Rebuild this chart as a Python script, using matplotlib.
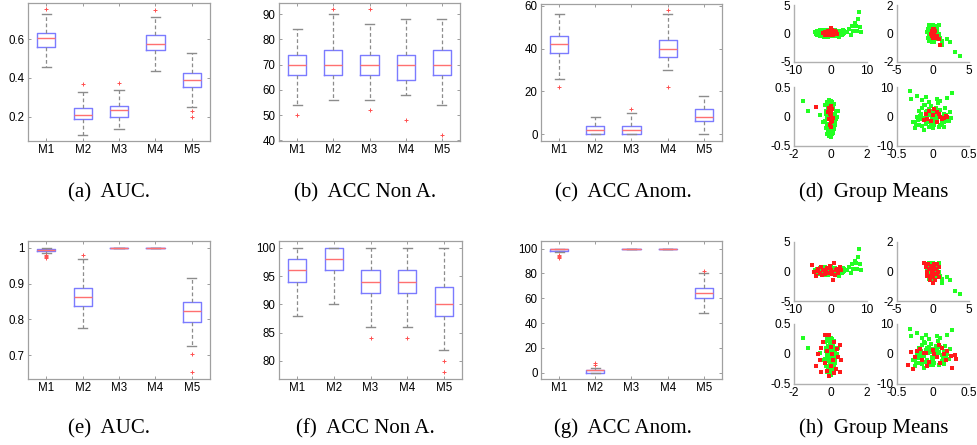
import matplotlib.pyplot as plt

plt.rcParams['axes.unicode_minus'] = False
plt.rcParams['font.family'] = 'Liberation Sans'

W, H = 977, 445

methods = ['M1', 'M2', 'M3', 'M4', 'M5']

# (a) AUC, first setting
a_med = [0.605, 0.210, 0.233, 0.574, 0.387]
a_q1 = [0.558, 0.186, 0.200, 0.543, 0.351]
a_q3 = [0.631, 0.245, 0.255, 0.621, 0.423]
a_lo = [0.455, 0.106, 0.138, 0.434, 0.250]
a_hi = [0.728, 0.325, 0.340, 0.714, 0.527]
a_out = [[0.756], [0.366], [0.375], [0.752], [0.228, 0.199]]

# (b) ACC Non A.
b_med = [70, 70, 70, 70, 70]
b_q1 = [66, 66, 66, 64, 66]
b_q3 = [74, 76, 74, 74, 76]
b_lo = [54, 56, 56, 58, 54]
b_hi = [84, 90, 86, 88, 88]
b_out = [[50], [92], [92, 52], [48], [42]]

# (c) ACC Anom.
c_med = [42, 2, 2, 40, 8]
c_q1 = [38, 0, 0, 36, 6]
c_q3 = [46, 4, 4, 44, 12]
c_lo = [26, 0, 0, 30, 0]
c_hi = [56, 8, 10, 56, 18]
c_out = [[22], [], [12], [58, 22], []]

# (e) AUC, second setting
e_med = [0.995, 0.864, 1.0, 1.0, 0.823]
e_q1 = [0.992, 0.837, 1.0, 1.0, 0.792]
e_q3 = [0.998, 0.889, 1.0, 1.0, 0.850]
e_lo = [0.987, 0.775, 1.0, 1.0, 0.725]
e_hi = [1.0, 0.968, 1.0, 1.0, 0.915]
e_out = [[0.981, 0.978, 0.975, 0.973], [0.981], [], [], [0.703, 0.653]]

# (f) ACC Non A.
f_med = [96, 98, 94, 94, 90]
f_q1 = [94, 96, 92, 92, 88]
f_q3 = [98, 100, 96, 96, 93]
f_lo = [88, 90, 86, 86, 82]
f_hi = [100, 100, 100, 100, 100]
f_out = [[], [], [84], [84], [80, 78]]

# (g) ACC Anom.
g_med = [100, 2, 100, 100, 64]
g_q1 = [98, 0, 100, 100, 60]
g_q3 = [100, 2, 100, 100, 68]
g_lo = [97, 0, 100, 100, 48]
g_hi = [100, 4, 100, 100, 80]
g_out = [[95, 94, 93, 92], [6, 8], [], [], [82]]

# group means, green points (same in d and h)
gx_tl = [-4.2, -3.8, -3.5, -3.2, -3.0, -2.8, -2.5, -2.2, -2.0, -1.8,
         -1.5, -1.2, -1.0, -0.8, -0.5, -0.2, 0.0, 0.3, 0.5, 0.8,
         1.0, 1.3, 1.5, 1.8, 2.0, 2.3, 2.6, 3.0, 3.3, 3.7,
         -3.6, -3.1, -2.6, -2.1, -1.6, -1.1, -0.6, -0.1, 0.4, 0.9, 1.4, 1.9, 2.4, 2.9, 3.4,
         -3.3, -2.7, -2.3, -1.7, -1.3, -0.7, -0.3, 0.2, 0.7, 1.2, 1.7, 2.2, 2.7, 3.2, 4.0,
         -3.9, -3.4, -2.9, -2.4, -1.9, -1.4, -0.9, -0.4, 0.1, 0.6, 1.1, 1.6, 2.1, 2.6, 3.1, 3.6,
         2.2, 3.5, 4.5, 5.0, 5.5, 6.0, 6.3, 6.8, 7.0, 7.2, 7.6, 7.8, 8.0, 8.3]
gy_tl = [0.2, 0.5, -0.1, 0.3, 0.6, -0.3, 0.1, 0.4, -0.5, 0.2,
         0.7, -0.2, 0.3, -0.6, 0.1, 0.5, -0.4, 0.2, -0.1, 0.6,
         -0.3, 0.1, 0.4, -0.2, 0.3, -0.1, 0.2, 0.0, 0.3, 0.1,
         -0.2, 0.0, 0.6, -0.1, 0.3, 0.5, -0.3, 0.2, 0.4, -0.5, 0.2, 0.5, -0.3, 0.4, -0.1,
         0.4, -0.4, 0.0, -0.6, 0.1, 0.6, -0.1, 0.7, -0.2, 0.5, 0.0, -0.4, 0.3, 0.5, 0.2,
         -0.1, 0.2, -0.4, 0.3, 0.5, -0.1, 0.0, -0.5, 0.1, 0.3, 0.6, -0.4, 0.1, 0.5, -0.3, 0.5,
         -0.7, 0.6, 0.2, 0.8, -0.2, 1.3, 0.4, 1.8, 1.4, 0.4, 2.5, 3.8, 1.2, 0.3]
gx_tr = [-0.8, -0.6, -0.4, -0.2, 0.0, 0.2, 0.4, 0.6, 0.8,
         -0.7, -0.5, -0.3, -0.1, 0.1, 0.3, 0.5, 0.7,
         -0.6, -0.4, -0.2, 0.0, 0.2, 0.4, 0.6,
         -0.5, -0.3, -0.1, 0.1, 0.3, 0.5,
         -0.7, -0.4, -0.2, 0.2, 0.5, 0.9,
         -0.3, 0.0, 0.3, -0.6, 0.6, -0.2, 0.2, 0.0, -0.4, 0.4, -0.1, 0.1,
         1.0, 1.3, 1.2, 2.0, 2.3, 3.0, 3.7, 0.8]
gy_tr = [0.1, 0.4, -0.2, 0.5, 0.6, 0.3, 0.5, 0.2, 0.0,
         -0.3, 0.1, 0.3, -0.4, 0.2, -0.1, 0.4, -0.2,
         -0.5, 0.0, -0.6, -0.3, -0.5, 0.1, -0.3,
         0.6, 0.2, 0.0, 0.4, 0.5, -0.4,
         0.3, -0.3, 0.2, -0.2, 0.1, -0.1,
         -0.1, 0.2, 0.0, 0.0, 0.4, 0.4, -0.4, -0.5, 0.5, -0.1, 0.6, -0.6,
         -0.3, -0.5, -0.8, -0.4, -0.6, -1.3, -1.55, 0.6]
gx_bl = [-0.3, -0.2, -0.1, 0.0, 0.1, 0.2, 0.3,
         -0.25, -0.15, -0.05, 0.05, 0.15, 0.25,
         -0.3, -0.2, -0.1, 0.0, 0.1, 0.2, 0.3,
         -0.25, -0.15, -0.05, 0.05, 0.15, 0.25,
         -0.2, -0.1, 0.0, 0.1, 0.2,
         -0.15, 0.0, 0.15, -0.1, 0.05, 0.1, -0.05,
         -0.22, -0.12, -0.02, 0.08, 0.18, -0.18, -0.08, 0.02, 0.12, 0.22,
         -0.2, 0.0, 0.2, -0.1, 0.1,
         -1.5, -1.25, -0.6, 0.35, -0.4, 0.4]
gy_bl = [0.2, 0.25, 0.1, 0.27, 0.15, 0.22, 0.1,
         0.05, 0.0, 0.18, 0.08, -0.02, 0.03,
         -0.08, -0.12, -0.05, -0.1, -0.15, -0.08, -0.05,
         -0.2, -0.25, -0.18, -0.22, -0.28, -0.15,
         -0.3, -0.33, -0.27, -0.3, -0.22,
         0.12, 0.2, 0.12, 0.28, -0.35, 0.25, -0.05,
         0.1, 0.14, -0.12, 0.2, 0.05, -0.02, 0.22, -0.07, 0.18, -0.1,
         -0.3, 0.07, -0.2, -0.2, 0.02,
         0.26, 0.1, 0.02, 0.0, -0.1, 0.1]
gx_br = [-0.25, -0.2, -0.15, -0.1, -0.05, 0.0, 0.05, 0.1, 0.15, 0.2,
         -0.22, -0.17, -0.12, -0.07, -0.02, 0.03, 0.08, 0.13, 0.18,
         -0.2, -0.15, -0.1, -0.05, 0.0, 0.05, 0.1, 0.15,
         -0.18, -0.08, 0.02, 0.12, 0.22,
         -0.13, -0.03, 0.07, 0.17, 0.25, -0.28,
         -0.18, -0.12, -0.06, 0.0, 0.06, 0.12, 0.18,
         -0.15, -0.09, -0.03, 0.03, 0.09, 0.15,
         -0.21, -0.11, -0.01, 0.09, 0.19,
         -0.16, -0.04, 0.04, 0.14, -0.24, 0.23,
         -0.32, -0.3, -0.22, -0.15, -0.1, -0.05, 0.05, 0.1, 0.2, 0.27,
         -0.25, -0.12, 0.0]
gy_br = [-2, -3, -1, -2.5, -3.5, -2, -1, -3, -2, -1.5,
         0, 1, -0.5, 0.5, -1, 0.3, 0.8, -0.2, 0.5,
         2, 3, 1.5, 2.5, 1.8, 1.2, 2.2, 1.0,
         -1, -2, -3, -2.5, -1.5,
         4, 3.5, 4.5, 2.8, -0.5, -2,
         0.2, -0.8, 1.4, -1.6, 0.6, -2.2, -0.4,
         -3.2, 2.0, -2.8, -0.6, 0.2, -3.4,
         -1.2, 3.8, -1.8, -3.6, 0.0,
         -0.2, 0.6, 2.8, -1.0, -3.0, 1.6,
         8.5, 6, 7, 5.5, 6.5, 5, 6, 5.2, 6.3, 8,
         -4, -4.5, -3.8]

# red points, panel (d)
rdx_tl = [-2.0, -1.6, -1.2, -0.8, -0.5, -0.2, 0.0, 0.2, 0.5, 0.8, 1.1, 1.5, 1.9,
          -1.0, -0.3, 0.3, 0.7, -0.6, 0.1, 0.0, 1.3, -1.4]
rdy_tl = [0.1, 0.3, -0.1, 0.4, 0.0, 0.5, 0.2, -0.2, 0.3, 0.1, -0.1, 0.2, 0.0,
          0.2, -0.3, 0.6, -0.2, 0.1, 0.0, 1.0, 0.4, -0.2]
rdx_tr = [-0.3, -0.2, -0.1, 0.0, 0.1, 0.2, 0.3, -0.2, 0.0, 0.2, -0.1, 0.1, 0.0, 0.6, 0.8, 1.0, 0.4]
rdy_tr = [0.0, 0.2, -0.2, 0.3, 0.1, -0.1, 0.2, -0.2, -0.3, 0.3, 0.1, -0.1, 0.0, -0.2, -0.4, -0.8, -0.3]
rdx_bl = [-0.1, 0.0, 0.1, -0.05, 0.05, -0.1, 0.0, 0.1, -0.05, 0.05, 0.0, -0.12, 0.12, -0.8, 0.0]
rdy_bl = [0.15, 0.1, 0.12, 0.05, 0.0, -0.05, -0.1, -0.08, -0.15, -0.18, 0.02, 0.08, -0.02, 0.16, 0.18]
rdx_br = [-0.1, -0.05, 0.0, 0.05, 0.1, 0.15, 0.2, -0.08, 0.02, 0.08, 0.12, -0.03, 0.06, 0.18, -0.12]
rdy_br = [1, 2, 0.5, 1.5, 0.0, -0.5, -0.3, -1, 2.5, 0.8, -0.8, -1.5, -2, 0.2, -1.2]

# red points, panel (h)
rhx_tl = [-5, -4.5, -4, -3.5, -3, -2.5, -2, -1.5, -1, -0.5, 0, 0.5, 1, 1.5, 2, 2.5,
          0.8, -0.2, 1.2, -2.2, -3.8, 3, 0.3, -1.2, 1.8]
rhy_tl = [1.1, 0.0, -0.8, 0.5, -0.3, 0.8, 0.3, -0.5, 0.6, -0.2, 0.3, -0.4, 1.5, 0.2, -0.3, 0.7,
          -1.5, 0.9, -0.6, -0.6, 0.1, 0.2, 0.0, 0.0, 0.5]
rhx_tr = [-1.2, -1.0, -0.8, -0.5, -0.3, 0, 0.2, 0.5, 0.7, 0.9, 0.3, 0.0,
          -0.4, -0.6, 0.1, -0.1, 0.4, -0.9, 0.6, -0.2, 0.2, 0.8, -0.7, 0.0]
rhy_tr = [0.6, 0.3, 0.0, -0.3, 0.4, 0.1, -0.2, 0.5, 0.0, -0.4, -0.6, -0.8,
          -0.6, 0.2, 0.3, -0.1, 0.2, -0.3, -0.2, 0.0, 0.5, 0.3, 0.5, -0.4]
rhx_bl = [-0.3, -0.1, 0.2, 0.5, -0.5, -0.2, 0.1, 0.4, -0.6, -0.8, -0.3, 0.0,
          0.3, 0.6, -0.5, -0.1, 0.2, -0.4, 0.0, 0.35, -0.2, 0.15, -0.7, 0.5]
rhy_bl = [0.32, 0.32, 0.2, 0.15, 0.1, 0.05, 0.0, -0.05, -0.1, -0.2, -0.15, -0.2,
          -0.25, -0.1, -0.3, -0.37, -0.32, 0.2, 0.12, 0.08, -0.28, -0.1, 0.0, -0.3]
rhx_br = [-0.35, -0.25, -0.22, -0.15, -0.1, 0, 0.05, 0.1, 0.15, 0.2, 0.25, 0.3,
          -0.28, 0.27, -0.05, 0.12, -0.18, 0.02, 0.08, -0.3, 0.32, -0.08, 0.18, -0.12]
rhy_br = [-3.5, -1, 1, -2, 0.5, 1.5, -1, -3, 0, 1, -0.5, -0.3,
          -5, -4.5, -2.5, 2, 1.8, 0.0, 3, 0.8, -1.5, -4, -2, 0.2]

BLUE = '#7b7bff'
RED = '#ff7070'
GREY = '#8c8c8c'
FRAME = '#a0a0a0'

fig = plt.figure(figsize=(W / 100, H / 100), dpi=100)


def px(l, t, r, b):
    return [l / W, 1 - b / H, (r - l) / W, (b - t) / H]


def boxpanel(rect, med, q1, q3, lo, hi, out, ylim, yticks, ylabels):
    ax = fig.add_axes(px(*rect))
    stats = []
    for i in range(5):
        stats.append(dict(med=med[i], q1=q1[i], q3=q3[i], whislo=lo[i],
                          whishi=hi[i], fliers=out[i]))
    ax.bxp(stats, positions=[1, 2, 3, 4, 5], widths=0.5,
           boxprops=dict(color=BLUE, lw=1.0),
           medianprops=dict(color=RED, lw=1.0),
           whiskerprops=dict(color=GREY, lw=0.9, ls=(0, (3, 2))),
           capprops=dict(color=GREY, lw=1.0),
           flierprops=dict(marker='+', markeredgecolor='#ff5050', ms=3, mew=0.7))
    ax.set_xlim(0.5, 5.5)
    ax.set_ylim(*ylim)
    ax.set_xticks([1, 2, 3, 4, 5])
    ax.set_xticklabels(methods)
    ax.set_yticks(yticks)
    ax.set_yticklabels(ylabels)
    ax.tick_params(direction='in', length=2.5, width=0.6, color=GREY,
                   top=True, right=True, labelsize=8.3, pad=2.5)
    for s in ax.spines.values():
        s.set_color(FRAME)
        s.set_linewidth(0.9)
    return ax


boxpanel((28, 3, 210, 141), a_med, a_q1, a_q3, a_lo, a_hi, a_out,
         (0.074, 0.787), [0.2, 0.4, 0.6], ['0.2', '0.4', '0.6'])
boxpanel((279, 3, 460, 141), b_med, b_q1, b_q3, b_lo, b_hi, b_out,
         (39.8, 94.4), [40, 50, 60, 70, 80, 90], ['40', '50', '60', '70', '80', '90'])
boxpanel((541, 4, 722, 141), c_med, c_q1, c_q3, c_lo, c_hi, c_out,
         (-3.1, 60.8), [0, 20, 40, 60], ['0', '20', '40', '60'])
boxpanel((28, 241, 210, 379), e_med, e_q1, e_q3, e_lo, e_hi, e_out,
         (0.633, 1.0195), [0.7, 0.8, 0.9, 1.0], ['0.7', '0.8', '0.9', '1'])
boxpanel((279, 241, 462, 379), f_med, f_q1, f_q3, f_lo, f_hi, f_out,
         (76.8, 101.2), [80, 85, 90, 95, 100], ['80', '85', '90', '95', '100'])
boxpanel((541, 241, 722, 379), g_med, g_q1, g_q3, g_lo, g_hi, g_out,
         (-5.1, 106.1), [0, 20, 40, 60, 80, 100], ['0', '20', '40', '60', '80', '100'])


def scatpanel(rect, gx, gy, rx, ry, lim_x, lim_y, labx, laby):
    ax = fig.add_axes(px(*rect))
    ax.plot(gx, gy, 's', color='#22ff22', ms=2.2, mew=0)
    ax.plot(rx, ry, 's', color='#ff1a1a', ms=2.2, mew=0)
    ax.set_xlim(-lim_x, lim_x)
    ax.set_ylim(-lim_y, lim_y)
    ax.set_xticks([-lim_x, 0, lim_x])
    ax.set_xticklabels(labx)
    ax.set_yticks([-lim_y, 0, lim_y])
    ax.set_yticklabels(laby)
    ax.spines['top'].set_visible(False)
    ax.spines['right'].set_visible(False)
    for s in ['left', 'bottom']:
        ax.spines[s].set_color('#b0b0b0')
        ax.spines[s].set_linewidth(1.0)
    ax.tick_params(direction='in', length=0, labelsize=8.6, pad=2.5)
    return ax


quad_rects = [(794, 5, 867, 62), (897, 5, 969, 62), (794, 87, 867, 146), (897, 87, 969, 146)]
quad_rects_h = [(794, 242, 867, 301), (897, 242, 969, 301), (794, 324, 867, 384), (897, 324, 969, 384)]
green = [(gx_tl, gy_tl), (gx_tr, gy_tr), (gx_bl, gy_bl), (gx_br, gy_br)]
red_d = [(rdx_tl, rdy_tl), (rdx_tr, rdy_tr), (rdx_bl, rdy_bl), (rdx_br, rdy_br)]
red_h = [(rhx_tl, rhy_tl), (rhx_tr, rhy_tr), (rhx_bl, rhy_bl), (rhx_br, rhy_br)]
lims = [(10, 5), (5, 2), (2, 0.5), (0.5, 10)]
labs = [(['-10', '0', '10'], ['-5', '0', '5']),
        (['-5', '0', '5'], ['-2', '0', '2']),
        (['-2', '0', '2'], ['-0.5', '0', '0.5']),
        (['-0.5', '0', '0.5'], ['-10', '0', '10'])]

for k in range(4):
    scatpanel(quad_rects[k], green[k][0], green[k][1], red_d[k][0], red_d[k][1],
              lims[k][0], lims[k][1], labs[k][0], labs[k][1])
    scatpanel(quad_rects_h[k], green[k][0], green[k][1], red_h[k][0], red_h[k][1],
              lims[k][0], lims[k][1], labs[k][0], labs[k][1])

# sub-captions
captions = ['(a)  AUC.', '(b)  ACC Non A.', '(c)  ACC Anom.', '(d)  Group Means',
            '(e)  AUC.', '(f)  ACC Non A.', '(g)  ACC Anom.', '(h)  Group Means']
cap_x = [109, 365, 623, 874, 109, 365, 623, 874]
cap_y = [197, 197, 197, 197, 433, 433, 433, 433]
for t, x, y in zip(captions, cap_x, cap_y):
    fig.text(x / W, 1 - y / H, t, ha='center', va='baseline',
             fontsize=15, family='Liberation Serif')

fig.savefig('out.png', dpi=100)
